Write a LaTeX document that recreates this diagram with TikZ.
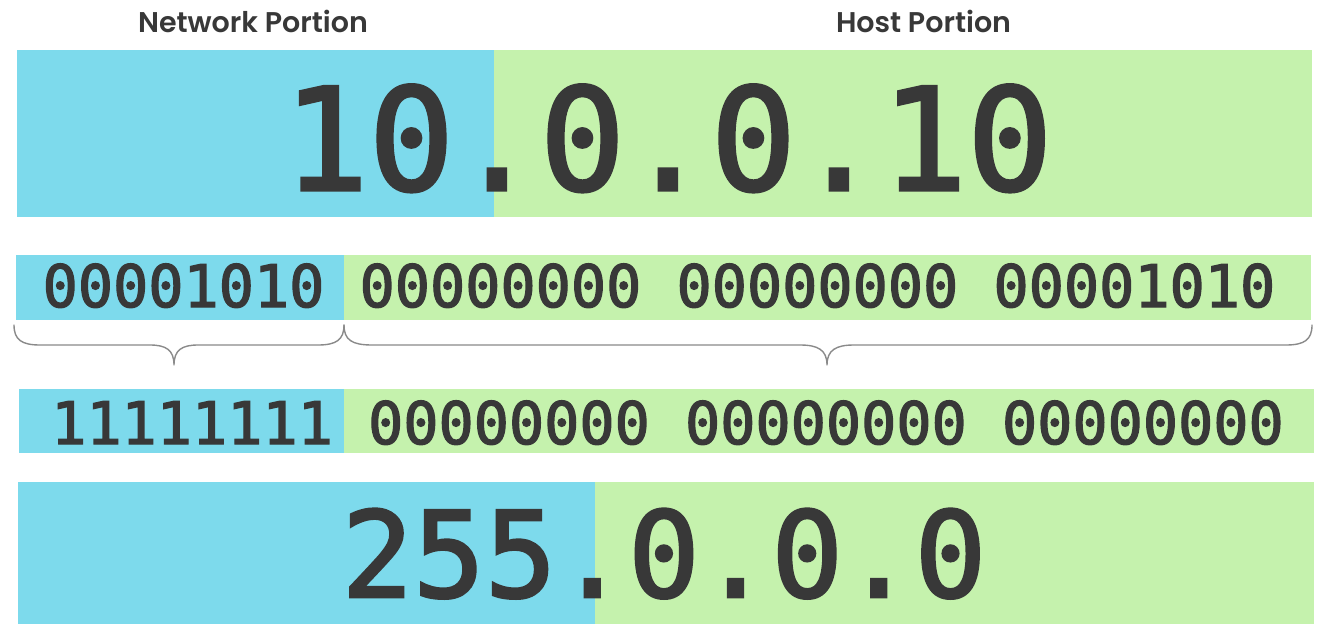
\documentclass[tikz,border=0pt]{standalone}
\usepackage{fontspec}
\newfontfamily\monofont[RawFeature={embolden=2.2}]{DejaVu Sans Mono}
\newfontfamily\hdrfont{Poppins SemiBold}
\definecolor{netblue}{HTML}{7DDAEC}
\definecolor{hostgreen}{HTML}{C5F2AD}
\definecolor{ink}{HTML}{383838}
\definecolor{bracegray}{HTML}{8A8A8A}
\begin{document}
\begin{tikzpicture}[x=1pt,y=-1pt,
  netbox/.style={fill=netblue,draw=none},
  hostbox/.style={fill=hostgreen,draw=none},
  hdr/.style={font=\hdrfont\fontsize{28.5}{28.5}\selectfont,text=ink,anchor=base,inner sep=0pt},
  digits/.style={text=ink,anchor=base,inner sep=0pt},
  bracepath/.style={draw=bracegray,line width=1.4pt,line cap=round,line join=round}]
\useasboundingbox (0,0) rectangle (1324,631);
\fill[white] (0,0) rectangle (1324,631);
% headers
\node[hdr] (nethdr) at (253,33) {Network Portion};
\node[hdr] (hosthdr) at (923.5,33) {Host Portion};
% row 1
\fill[netbox] (17,50) rectangle (494,217);
\fill[hostbox] (494,50) rectangle (1312,217);
\node[digits,font=\monofont\fontsize{142}{142}\selectfont] (ip) at (668,190) {10.0.0.10};
% row 2
\fill[netbox] (16,255) rectangle (344,320);
\fill[hostbox] (344,255) rectangle (1311,320);
\node[digits,font=\monofont\fontsize{58.5}{58.5}\selectfont] (ipbin) at (659,307) {00001010 00000000 00000000 00001010};
% braces
\draw[bracepath] (14,325) .. controls (14,340) and (22,345) .. (40,345) -- (150,345)
  .. controls (166,345) and (174,350) .. (174,365)
  .. controls (174,350) and (182,345) .. (198,345) -- (318,345)
  .. controls (336,345) and (344,340) .. (344,325);
\draw[bracepath] (344,325) .. controls (344,340) and (352,345) .. (372,345) -- (800,345)
  .. controls (818,345) and (827,350) .. (827,365)
  .. controls (827,350) and (836,345) .. (854,345) -- (1286,345)
  .. controls (1304,345) and (1312,340) .. (1312,325);
% row 3
\fill[netbox] (19,389) rectangle (344,453);
\fill[hostbox] (344,389) rectangle (1314,453);
\node[digits,font=\monofont\fontsize{58.5}{58.5}\selectfont] (maskbin) at (667.5,444) {11111111 00000000 00000000 00000000};
% row 4
\fill[netbox] (18,482) rectangle (595,624);
\fill[hostbox] (595,482) rectangle (1314,624);
\node[digits,font=\monofont\fontsize{119}{119}\selectfont] (mask) at (664,597) {255.0.0.0};
\end{tikzpicture}
\end{document}
